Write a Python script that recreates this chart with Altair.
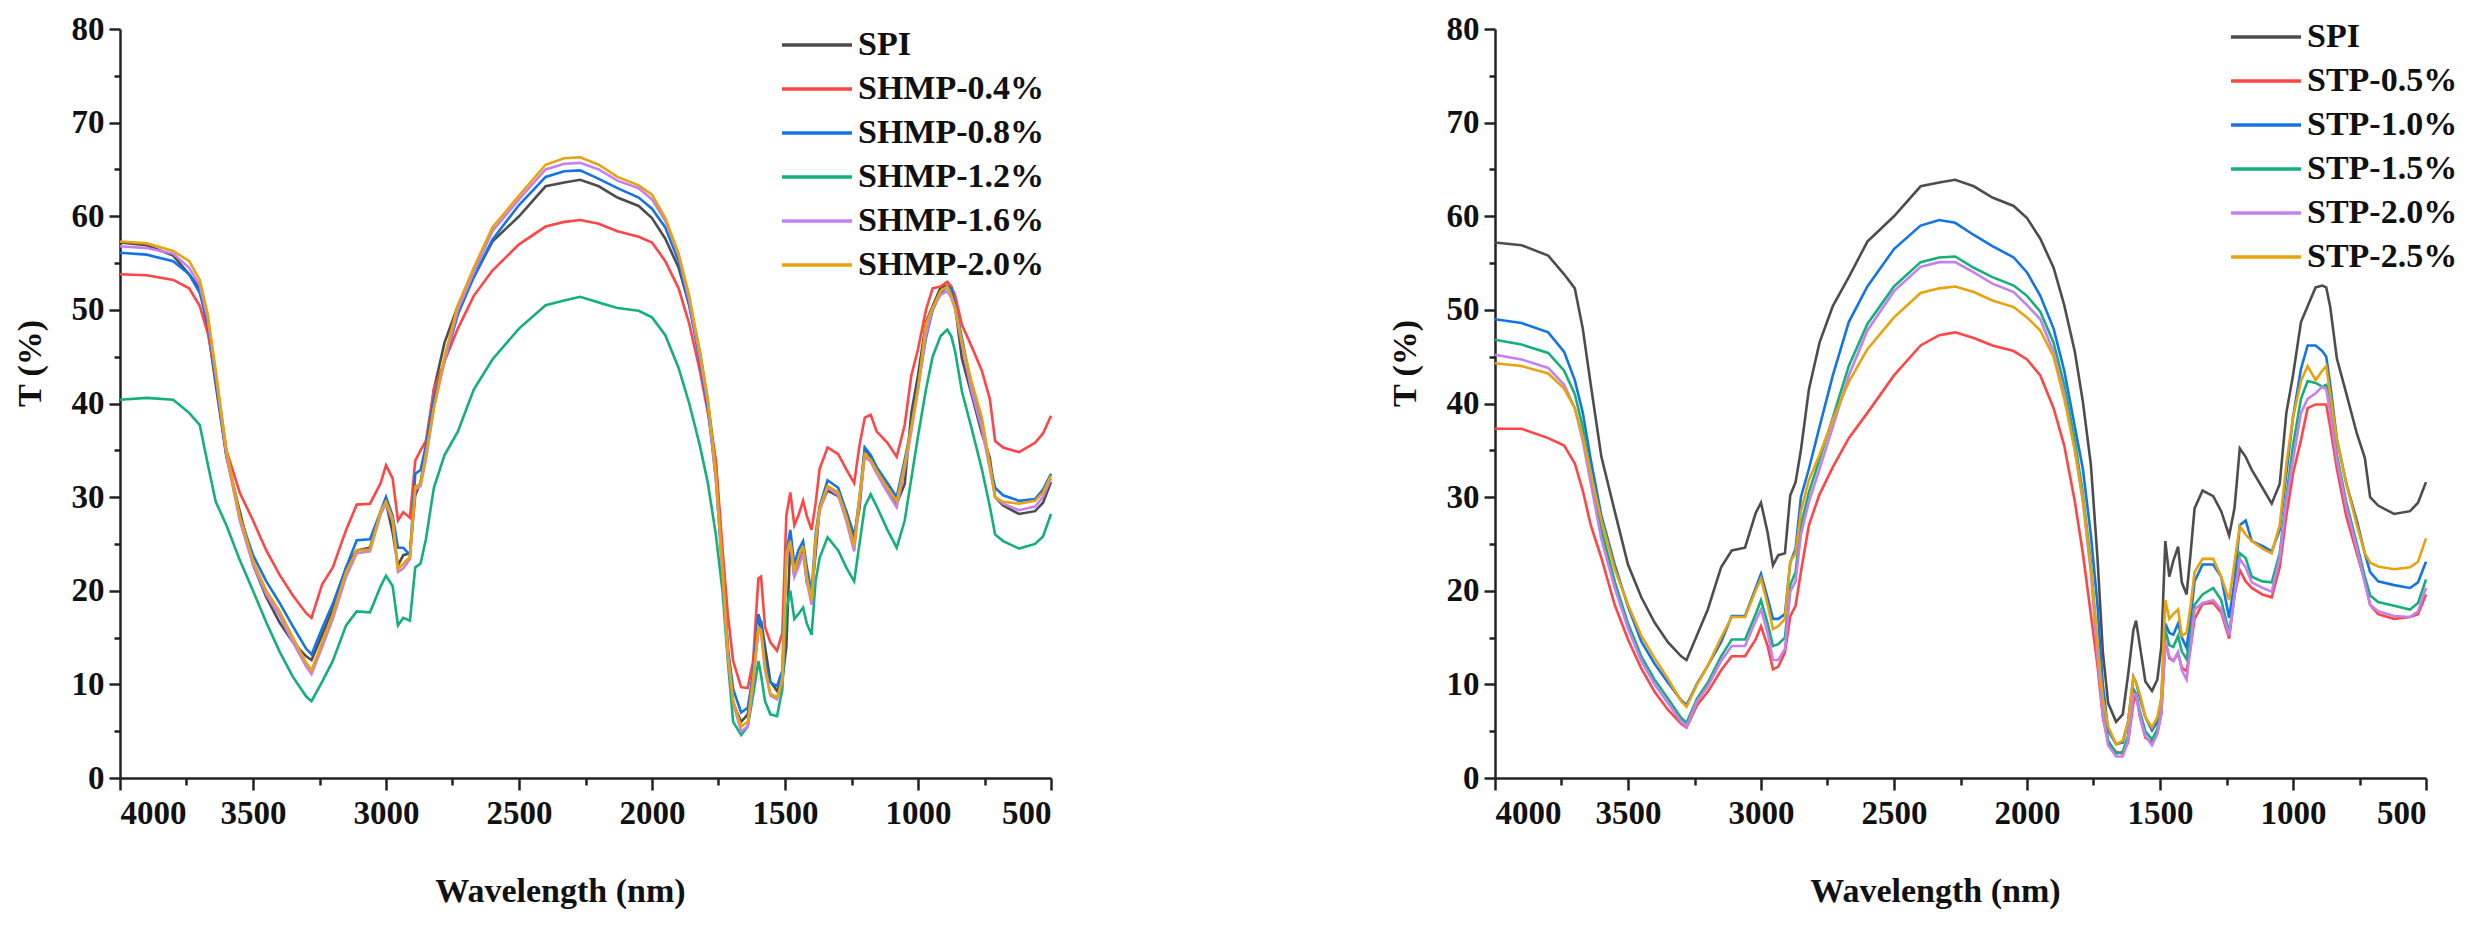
import altair as alt
import pandas as pd

# Wavenumber grid (x axis, labelled "Wavelength (nm)")
wavenumber = [4000, 3900, 3800, 3740, 3700, 3670, 3640, 3600, 3550, 3500,
              3450, 3400, 3350, 3300, 3280, 3240, 3200, 3150, 3110, 3060,
              3020, 3000, 2975, 2955, 2935, 2910, 2890, 2870, 2850, 2820,
              2780, 2730, 2670, 2600, 2500, 2400, 2330, 2270, 2200, 2130,
              2050, 2000, 1950, 1900, 1860, 1820, 1790, 1760, 1735, 1715,
              1695, 1665, 1640, 1620, 1600, 1590, 1575, 1555, 1530, 1510,
              1495, 1480, 1465, 1450, 1432, 1418, 1400, 1385, 1370, 1340,
              1300, 1270, 1240, 1220, 1200, 1178, 1155, 1115, 1080, 1050,
              1025, 1000, 970, 945, 915, 890, 875, 860, 835, 800,
              760, 730, 710, 680, 620, 560, 530, 500]

spi = [57.2, 56.9, 55.8, 53.8, 52.3, 48.0, 42.0, 34.3, 28.5, 22.8,
       19.3, 16.6, 14.5, 13.0, 12.6, 15.3, 18.0, 22.5, 24.3, 24.6,
       28.3, 29.4, 26.2, 22.7, 23.8, 24.0, 30.2, 31.6, 35.0, 41.5,
       46.5, 50.4, 53.5, 57.3, 60.0, 63.2, 63.6, 63.9, 63.2, 62.0,
       61.1, 59.8, 57.6, 54.5, 50.5, 45.5, 40.2, 33.5, 23.5, 13.5,
       8.0, 6.0, 6.8, 11.0, 15.8, 16.8, 14.0, 10.3, 9.3, 10.5,
       14.0, 25.3, 21.5, 23.2, 24.7, 20.9, 19.6, 24.0, 28.8, 30.7,
       30.1, 28.5, 25.9, 28.8, 35.2, 34.3, 32.9, 31.0, 29.3, 31.4,
       39.0, 43.0, 48.7, 50.4, 52.4, 52.6, 52.4, 50.3, 44.8, 41.1,
       36.8, 34.2, 30.0, 29.1, 28.2, 28.5, 29.4, 31.6]

shmp_04 = [53.8, 53.7, 53.2, 52.3, 50.4, 47.5, 43.0, 35.0, 30.5, 27.5,
           24.3, 21.7, 19.5, 17.6, 17.1, 20.7, 22.5, 26.5, 29.2, 29.3,
           31.5, 33.4, 32.0, 27.5, 28.4, 27.8, 33.9, 35.0, 36.0, 41.5,
           44.5, 48.0, 51.5, 54.2, 57.0, 58.9, 59.4, 59.6, 59.2, 58.4,
           57.8, 57.2, 55.2, 52.3, 48.5, 43.5, 39.0, 34.0, 24.5, 17.5,
           12.5, 9.7, 9.6, 12.5, 21.3, 21.5, 16.1, 14.5, 13.6, 15.5,
           28.0, 30.5, 27.0, 28.0, 29.6, 28.0, 26.5, 29.3, 33.0, 35.3,
           34.6, 33.0, 31.5, 35.5, 38.5, 38.8, 37.0, 35.8, 34.3, 37.7,
           43.0, 45.8, 50.0, 52.3, 52.5, 53.0, 52.5, 51.5, 48.4, 46.2,
           43.5, 40.5, 36.0, 35.3, 34.8, 35.8, 36.8, 38.7]

shmp_08 = [56.1, 55.9, 55.2, 53.8, 51.8, 48.5, 42.5, 34.5, 28.0, 23.8,
           21.0, 18.7, 16.2, 13.8, 13.2, 16.0, 18.6, 22.5, 25.4, 25.5,
           28.5, 30.0, 28.0, 24.6, 24.6, 23.8, 32.5, 32.9, 35.5, 40.5,
           44.5, 49.5, 53.5, 57.5, 61.2, 64.2, 64.8, 64.9, 64.0, 63.0,
           62.0, 60.8, 58.8, 55.2, 50.5, 44.5, 39.5, 32.0, 22.0, 14.0,
           9.5, 7.0, 7.5, 11.0, 17.5, 16.5, 12.5, 10.2, 9.8, 11.5,
           24.0, 26.5, 22.8, 24.3, 25.3, 22.5, 19.8, 26.0, 29.0, 31.8,
           31.0, 28.5, 25.5, 30.0, 35.3, 34.5, 33.2, 31.5, 30.0, 34.0,
           37.5, 42.0, 47.0, 50.0, 51.8, 52.5, 52.3, 50.5, 47.0, 42.0,
           38.0, 33.5, 31.0, 30.2, 29.6, 29.8, 30.8, 32.5]

shmp_12 = [40.4, 40.6, 40.4, 39.0, 37.7, 33.5, 29.5, 27.0, 23.3, 20.0,
           16.6, 13.5, 10.8, 8.7, 8.2, 10.3, 12.5, 16.3, 17.8, 17.7,
           20.5, 21.6, 20.5, 16.3, 17.1, 16.8, 22.5, 22.9, 25.5, 31.0,
           34.5, 37.0, 41.5, 44.7, 48.0, 50.5, 51.0, 51.4, 50.8, 50.2,
           49.9, 49.2, 47.3, 43.8, 40.0, 35.5, 31.5, 26.0, 20.0, 12.5,
           6.0, 4.6, 5.5, 8.8, 12.5, 11.0, 8.2, 6.8, 6.6, 9.5,
           18.0, 20.0, 17.0, 17.5, 18.2, 16.5, 15.3, 21.0, 23.5, 25.7,
           24.3, 22.5, 21.0, 25.0, 29.0, 30.3, 29.0, 26.5, 24.6, 27.5,
           32.0, 36.5, 41.5, 45.0, 47.2, 47.9, 47.2, 45.5, 41.3, 37.5,
           33.0, 29.0, 26.0, 25.3, 24.5, 25.0, 25.8, 28.2]

shmp_16 = [56.8, 56.6, 56.0, 54.5, 52.6, 49.0, 43.0, 34.5, 27.5, 22.8,
           19.6, 17.3, 14.5, 11.9, 11.1, 14.0, 17.0, 21.5, 24.0, 24.2,
           28.2, 29.3, 27.4, 22.0, 22.4, 23.4, 30.8, 31.2, 34.0, 39.5,
           44.5, 50.0, 54.0, 58.4, 61.8, 65.0, 65.6, 65.7, 65.0, 63.8,
           63.0, 61.8, 59.5, 55.8, 51.0, 45.0, 40.0, 32.0, 22.0, 13.0,
           8.0, 5.0, 5.5, 10.0, 16.0, 15.5, 11.5, 8.8, 8.4, 10.3,
           23.5, 25.0, 21.5, 22.5, 24.0, 21.0, 18.5, 25.0, 28.5, 31.0,
           30.2, 27.5, 24.2, 29.5, 34.3, 33.8, 32.5, 30.5, 28.9, 33.0,
           37.0, 41.5, 47.3, 50.2, 51.6, 52.0, 51.3, 50.0, 46.3, 41.5,
           37.3, 33.0, 30.0, 29.3, 28.6, 29.0, 30.0, 32.0]

shmp_20 = [57.3, 57.1, 56.3, 55.2, 53.2, 49.5, 43.5, 35.0, 28.0, 23.2,
           20.0, 17.8, 15.0, 12.3, 11.5, 14.5, 17.5, 22.0, 24.3, 24.4,
           28.5, 29.5, 27.7, 22.3, 22.9, 23.6, 31.1, 31.4, 34.6, 39.5,
           45.0, 50.5, 54.5, 58.8, 62.2, 65.5, 66.2, 66.3, 65.5, 64.2,
           63.3, 62.3, 59.8, 56.0, 51.5, 45.5, 40.5, 32.5, 22.5, 13.5,
           8.3, 5.5, 6.0, 10.5, 16.1, 15.8, 11.8, 9.0, 8.6, 10.5,
           24.0, 25.3, 22.0, 23.5, 24.8, 21.5, 19.0, 25.5, 28.8, 31.2,
           30.5, 28.0, 24.8, 30.0, 34.6, 34.0, 32.8, 31.0, 29.5, 33.5,
           37.5, 41.5, 48.5, 50.2, 52.0, 52.5, 51.5, 50.2, 46.6, 42.5,
           38.5, 33.5, 30.0, 29.5, 29.3, 29.6, 30.5, 32.3]

stp_05 = [37.3, 37.3, 36.3, 35.5, 33.6, 30.7, 27.0, 23.5, 18.5, 14.8,
          11.7, 9.2, 7.3, 5.8, 5.4, 7.8, 9.2, 11.5, 13.0, 13.0,
          14.8, 16.2, 14.1, 11.6, 11.9, 13.4, 17.3, 18.4, 22.0, 27.0,
          30.3, 33.2, 36.3, 39.0, 43.0, 46.2, 47.3, 47.6, 47.0, 46.2,
          45.6, 44.7, 43.0, 39.5, 35.5, 29.5, 24.0, 17.5, 12.0, 6.5,
          3.8, 2.8, 2.6, 3.8, 8.0, 8.9, 6.5, 4.3, 3.8, 4.8,
          6.8, 14.6, 12.8, 12.5, 13.3, 11.8, 11.4, 13.9, 17.0, 18.6,
          18.7, 17.7, 14.9, 19.5, 22.2, 21.0, 20.3, 19.6, 19.3, 22.5,
          28.0, 32.5, 36.1, 39.5, 39.9, 39.9, 39.9, 37.5, 33.0, 28.0,
          24.0, 21.0, 18.5, 17.5, 17.0, 17.2, 17.5, 19.6]

stp_10 = [49.0, 48.6, 47.6, 45.5, 42.5, 39.0, 34.0, 28.0, 22.8, 18.3,
          14.6, 12.2, 10.2, 8.3, 7.8, 10.1, 12.0, 14.5, 17.3, 17.3,
          20.3, 21.8, 19.2, 17.0, 17.0, 17.5, 23.0, 24.5, 30.0, 33.0,
          37.5, 43.0, 48.7, 52.5, 56.5, 59.0, 59.6, 59.3, 58.0, 56.8,
          55.6, 54.0, 51.5, 48.0, 43.5, 37.5, 33.0, 26.0, 18.5, 10.0,
          5.1, 3.6, 3.8, 6.0, 10.8, 10.2, 8.5, 6.5, 5.1, 6.0,
          8.5, 16.5, 15.5, 15.3, 16.5, 15.0, 13.9, 17.1, 21.0, 22.8,
          22.8, 21.5, 17.1, 21.0, 27.0, 27.5, 25.3, 24.8, 24.2, 26.5,
          32.5, 38.5, 43.7, 46.2, 46.2, 45.6, 45.0, 42.0, 36.2, 31.5,
          27.5, 24.0, 22.0, 21.0, 20.6, 20.3, 20.9, 23.1]

stp_15 = [46.8, 46.3, 45.4, 43.5, 41.0, 37.5, 32.5, 26.5, 21.0, 16.5,
          13.0, 10.5, 8.5, 6.4, 5.9, 8.5, 10.2, 13.0, 14.8, 14.8,
          17.5, 19.0, 16.5, 14.1, 14.3, 15.0, 20.6, 22.0, 27.0, 30.5,
          34.0, 38.5, 44.0, 48.5, 52.5, 55.1, 55.6, 55.7, 54.5, 53.5,
          52.6, 51.5, 49.8, 46.5, 42.0, 36.0, 30.4, 23.0, 14.0, 7.5,
          4.0, 2.6, 2.8, 4.5, 9.5, 9.0, 7.0, 5.0, 4.1, 5.2,
          7.5, 15.8, 14.2, 14.0, 15.2, 13.5, 12.7, 15.2, 18.5, 19.6,
          20.3, 19.0, 15.5, 19.5, 24.0, 23.5, 21.5, 21.0, 20.9, 24.0,
          30.0, 35.5, 40.5, 42.4, 42.2, 41.8, 42.0, 40.5, 34.5, 29.5,
          25.0, 21.5, 19.5, 18.8, 18.4, 18.0, 18.7, 21.2]

stp_20 = [45.2, 44.7, 43.8, 42.0, 39.5, 36.0, 31.5, 25.5, 20.3, 16.0,
          12.5, 10.0, 8.0, 6.0, 5.5, 8.2, 9.8, 12.5, 14.1, 14.1,
          16.8, 18.0, 15.5, 12.6, 12.6, 13.8, 19.9, 21.0, 26.0, 29.5,
          33.0, 37.5, 43.0, 47.8, 52.0, 54.6, 55.1, 55.1, 54.0, 52.8,
          51.9, 50.5, 49.0, 45.5, 41.0, 35.0, 29.5, 22.0, 13.0, 6.8,
          3.5, 2.3, 2.3, 4.0, 9.0, 8.9, 6.5, 4.5, 3.5, 4.7,
          7.0, 14.6, 13.0, 12.5, 13.5, 11.5, 10.5, 14.0, 18.0, 18.7,
          19.0, 18.0, 15.2, 19.5, 23.4, 22.5, 20.9, 20.3, 19.9, 23.5,
          29.5, 34.0, 39.0, 40.5, 41.1, 41.8, 41.5, 39.0, 34.0, 29.0,
          24.5, 20.8, 18.5, 17.8, 17.3, 17.2, 17.8, 20.3]

stp_25 = [44.3, 44.0, 43.2, 41.6, 39.5, 36.5, 32.5, 27.5, 22.3, 18.5,
          15.2, 12.8, 10.6, 8.2, 7.6, 10.0, 12.0, 15.0, 17.2, 17.2,
          20.0, 21.3, 18.5, 15.9, 16.2, 17.0, 23.1, 24.0, 28.5, 31.8,
          34.5, 38.3, 42.3, 45.8, 49.2, 51.8, 52.3, 52.5, 51.9, 51.0,
          50.3, 49.2, 47.8, 45.0, 40.5, 35.0, 29.8, 22.5, 14.5, 8.5,
          5.5, 3.6, 4.0, 6.0, 10.8, 10.2, 8.9, 6.5, 5.4, 6.5,
          8.5, 19.0, 17.0, 17.5, 18.0, 15.2, 15.5, 18.4, 22.0, 23.4,
          23.4, 21.5, 19.0, 23.0, 26.9, 26.0, 25.3, 24.5, 24.0, 27.0,
          33.5, 38.5, 42.4, 44.0, 42.5, 43.5, 44.0, 41.0, 36.1, 31.5,
          27.0, 24.0, 23.0, 22.6, 22.3, 22.5, 23.1, 25.6]

shmp_names = ["SPI", "SHMP-0.4%", "SHMP-0.8%", "SHMP-1.2%", "SHMP-1.6%", "SHMP-2.0%"]
stp_names = ["SPI", "STP-0.5%", "STP-1.0%", "STP-1.5%", "STP-2.0%", "STP-2.5%"]
colors = ["#4d4d4d", "#ff4545", "#1474e6", "#14b07a", "#c480f0", "#e8a20c"]

x_ticks = list(range(500, 4001, 250))
y_ticks = list(range(0, 81, 5))

FONT = "Liberation Serif"
AXIS_STYLE = dict(
    domain=True, ticks=True, grid=False,
    domainColor="#222", domainWidth=2.5, tickColor="#222", tickWidth=2.5,
    labelFont=FONT, labelFontSize=33, labelFontWeight="bold", labelColor="#111",
    titleFont=FONT, titleFontSize=34, titleFontWeight="bold", titleColor="#111",
    labelOverlap=False, titleAlign="center", titleBaseline="middle",
)


def panel(names, series, channel, legend_x, legend_y):
    rows = []
    for k, (name, vals) in enumerate(zip(names, series)):
        for w, v in zip(wavenumber, vals):
            rows.append({"wn": w, "T": v, "series": name, "k": k})
    df = pd.DataFrame(rows)
    x_axis = alt.Axis(
        values=x_ticks,
        labelExpr="datum.value % 500 === 0 ? datum.label : ''",
        format="d", tickSize=12, labelPadding=7,
        tickDash={"condition": {"test": "datum.value % 500 === 0", "value": [30, 1]}, "value": [7, 40]},
        title="Wavelength (nm)", titleX=440, titleY=113,
        **AXIS_STYLE,
    )
    y_axis = alt.Axis(
        values=y_ticks,
        labelExpr="datum.value % 10 === 0 ? datum.label : ''",
        tickSize=11, labelPadding=5,
        tickDash={"condition": {"test": "datum.value % 10 === 0", "value": [30, 1]}, "value": [6, 40]},
        title="T (%)", titleX=-90, titleY=334, titleAngle=270,
        **AXIS_STYLE,
    )
    legend = alt.Legend(
        title=None, orient="none", legendX=legend_x, legendY=legend_y,
        symbolType="M-3.5,0H3.5", symbolSize=400, symbolStrokeWidth=3.5,
        labelFont=FONT, labelFontSize=34, labelFontWeight="bold", labelColor="#111",
        labelOffset=24, rowPadding=10, padding=0, labelLimit=0,
    )
    scale = alt.Scale(domain=names, range=colors)
    enc = dict(
        x=alt.X("wn:Q", scale=alt.Scale(domain=[500, 4000], reverse=True, nice=False, zero=False), axis=x_axis),
        y=alt.Y("T:Q", scale=alt.Scale(domain=[0, 80], nice=False), axis=y_axis),
        detail="k:N",
    )
    if channel == "color":
        enc["color"] = alt.Color("series:N", scale=scale, legend=legend)
    else:
        enc["stroke"] = alt.Stroke("series:N", scale=scale, legend=legend)
    return alt.Chart(df).mark_line(strokeWidth=2.6).encode(**enc).properties(width=931, height=749)


# legends are placed from the first panel's plot origin (shared legend resolution in concat)
left = panel(shmp_names, [spi, shmp_04, shmp_08, shmp_12, shmp_16, shmp_20], "color", 680, -1)
right = panel(stp_names, [spi, stp_05, stp_10, stp_15, stp_20, stp_25], "stroke", 2129, -9)

chart = alt.hconcat(left, right, spacing=331).configure_view(strokeWidth=0)

chart.save("out.html", embed_options={"renderer": "svg", "actions": False})
